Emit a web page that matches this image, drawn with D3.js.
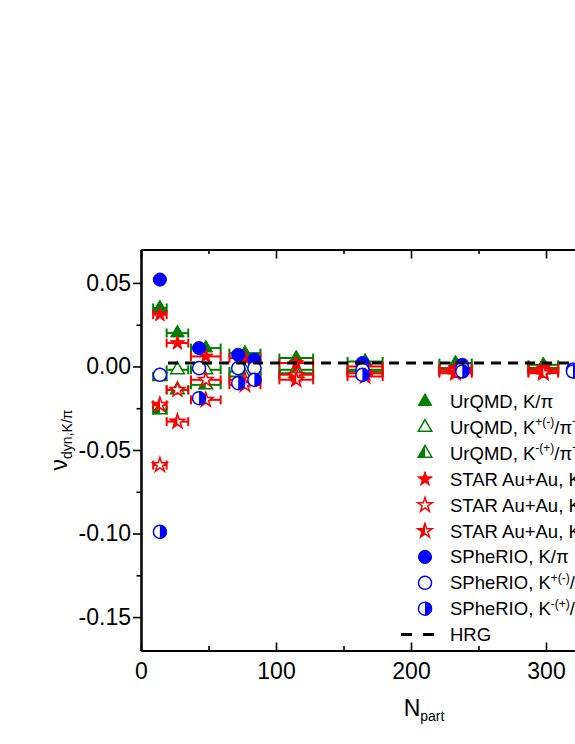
<!DOCTYPE html>
<html>
<head>
<meta charset="utf-8">
<script src="https://cdn.jsdelivr.net/npm/d3@7"></script>
<style>
  body { margin: 0; background: #fff; }
  text { font-family: "Liberation Sans", Arial, sans-serif; }
</style>
</head>
<body>
<script>
// N_part values and horizontal errors (UrQMD / STAR)
var nPart = [14, 27, 48, 77, 115, 166, 233, 298];
var nErr = [5, 8, 11, 11.5, 12.5, 13, 12, 11];

// UrQMD
var urqmdKpi = [0.035, 0.020, 0.011, 0.008, 0.005, 0.003, 0.002, 0.001];
var urqmdPlus = [-0.006, -0.002, -0.002, -0.003, -0.002, -0.002, -0.001, -0.001];
var urqmdMinus = [-0.026, -0.014, -0.011, -0.006, -0.004, -0.003, -0.002, -0.002];

// STAR Au+Au
var starKpi = [0.031, 0.014, 0.006, 0.005, 0.002, 0.000, -0.001, -0.001];
var starPlus = [-0.059, -0.014, -0.008, -0.008, -0.005, -0.004, -0.003, -0.003];
var starMinus = [-0.023, -0.033, -0.020, -0.011, -0.008, -0.006, -0.004, -0.004];

// SPheRIO
var nSph = [14, 43, 72, 84, 164, 238, 320];
var sphKpi = [0.052, 0.011, 0.007, 0.004, 0.002, 0.001, -0.002];
var sphPlus = [-0.005, -0.001, -0.001, -0.001, -0.002, -0.001, -0.002];
var sphMinus = [-0.099, -0.019, -0.010, -0.008, -0.005, -0.003, -0.003];

// HRG
var hrgN = [20, 420];
var hrgV = [0.002, 0.002];

var xMajor = [0, 100, 200, 300, 400];
var xMinor = [50, 150, 250, 350];
var yMajor = [-0.15, -0.10, -0.05, 0.00, 0.05];
var yMinor = [-0.125, -0.075, -0.025, 0.025];

var green = "#008000", red = "#ff0000", blue = "#0000ff";

var svg = d3.select("body").append("svg")
    .attr("width", 575)
    .attr("height", 744);

var defs = svg.append("defs");
defs.append("clipPath").attr("id", "clipL")
    .append("rect").attr("x", -20).attr("y", -20).attr("width", 20).attr("height", 40);
defs.append("clipPath").attr("id", "clipR")
    .append("rect").attr("x", 0).attr("y", -20).attr("width", 20).attr("height", 40);

var x = d3.scaleLinear().domain([0, 420]).range([141, 708]);
var y = d3.scaleLinear().domain([-0.17, 0.07]).range([650.5, 249.5]);

// axes
function styleAxis(g) {
    g.attr("font-family", null).attr("font-size", null);
    g.select(".domain").attr("stroke", "#000").attr("stroke-width", 2);
    g.selectAll(".tick line").attr("stroke", "#000").attr("stroke-width", 1.6);
    g.selectAll(".tick text").attr("fill", "#000").style("font-size", "23px");
}

svg.append("g").attr("transform", "translate(0,650.5)")
    .call(d3.axisBottom(x).tickValues(xMinor).tickSize(-4.5).tickSizeOuter(0).tickFormat(""))
    .call(styleAxis);
svg.append("g").attr("transform", "translate(0,650.5)")
    .call(d3.axisBottom(x).tickValues(xMajor).tickSize(-8).tickSizeOuter(0).tickPadding(12.5).tickFormat(d3.format("d")))
    .call(styleAxis);
svg.append("g").attr("transform", "translate(0,249.5)")
    .call(d3.axisTop(x).tickValues(xMinor).tickSize(-4.5).tickSizeOuter(0).tickFormat(""))
    .call(styleAxis);
svg.append("g").attr("transform", "translate(0,249.5)")
    .call(d3.axisTop(x).tickValues(xMajor).tickSize(-9).tickSizeOuter(0).tickFormat(""))
    .call(styleAxis);
svg.append("g").attr("transform", "translate(141,0)")
    .call(d3.axisLeft(y).tickValues(yMinor).tickSize(4.5).tickSizeOuter(0).tickFormat(""))
    .call(styleAxis);
svg.append("g").attr("transform", "translate(141,0)")
    .call(d3.axisLeft(y).tickValues(yMajor).tickSize(8).tickSizeOuter(0).tickPadding(2)
        .tickFormat(function(d) { return d.toFixed(2); }))
    .call(styleAxis);
svg.append("g").attr("transform", "translate(708,0)")
    .call(d3.axisRight(y).tickValues(yMajor).tickSize(-8).tickSizeOuter(0).tickFormat(""))
    .call(styleAxis);

// axis titles
var yt = svg.append("text")
    .attr("transform", "translate(67,440) rotate(-90)")
    .attr("text-anchor", "middle")
    .style("font-size", "23px");
yt.append("tspan").text("ν");
yt.append("tspan").attr("dy", 5).style("font-size", "14px").text("dyn,K/π");

var xt = svg.append("text")
    .attr("x", 424).attr("y", 716)
    .attr("text-anchor", "middle")
    .style("font-size", "23px");
xt.append("tspan").text("N");
xt.append("tspan").attr("dy", 5).style("font-size", "14px").text("part");

// symbols
var tri = d3.symbol().type(d3.symbolTriangle).size(80)();
var star = d3.symbol().type(d3.symbolStar).size(65)();
var circ = d3.symbol().type(d3.symbolCircle).size(135)();

function drawMarker(parent, px, py, shape, color, mode) {
    var g = parent.append("g").attr("transform", "translate(" + px + "," + py + ")");
    if (mode == "full") {
        g.append("path").attr("d", shape).attr("fill", color).attr("stroke", color).attr("stroke-width", 1);
    } else {
        g.append("path").attr("d", shape).attr("fill", "#fff").attr("stroke", color).attr("stroke-width", 1.5);
        if (mode == "left" || mode == "right") {
            g.append("path").attr("d", shape).attr("fill", color).attr("stroke", color).attr("stroke-width", 1)
                .attr("clip-path", mode == "left" ? "url(#clipL)" : "url(#clipR)");
        }
    }
}

var series = [
    { n: nPart, v: urqmdKpi, err: nErr, shape: tri, color: green, mode: "full", label: ["UrQMD, K/π"] },
    { n: nPart, v: urqmdPlus, err: nErr, shape: tri, color: green, mode: "open", label: ["UrQMD, K", "+(-)", "/π", "+(-)"] },
    { n: nPart, v: urqmdMinus, err: nErr, shape: tri, color: green, mode: "left", label: ["UrQMD, K", "-(+)", "/π", "+(-)"] },
    { n: nPart, v: starKpi, err: nErr, shape: star, color: red, mode: "full", label: ["STAR Au+Au, K/π"] },
    { n: nPart, v: starPlus, err: nErr, shape: star, color: red, mode: "open", label: ["STAR Au+Au, K", "+(-)", "/π", "+(-)"] },
    { n: nPart, v: starMinus, err: nErr, shape: star, color: red, mode: "left", label: ["STAR Au+Au, K", "-(+)", "/π", "+(-)"] },
    { n: nSph, v: sphKpi, err: null, shape: circ, color: blue, mode: "full", label: ["SPheRIO, K/π"] },
    { n: nSph, v: sphPlus, err: null, shape: circ, color: blue, mode: "open", label: ["SPheRIO, K", "+(-)", "/π", "+(-)"] },
    { n: nSph, v: sphMinus, err: null, shape: circ, color: blue, mode: "right", label: ["SPheRIO, K", "-(+)", "/π", "+(-)"] }
];

var plot = svg.append("g");
series.forEach(function(s) {
    var g = plot.append("g");
    s.n.forEach(function(n, i) {
        var py = y(s.v[i]);
        if (s.err) {
            var x0 = x(n - s.err[i]), x1 = x(n + s.err[i]);
            g.append("line").attr("x1", x0).attr("x2", x1).attr("y1", py).attr("y2", py)
                .attr("stroke", s.color).attr("stroke-width", 2);
            [x0, x1].forEach(function(xc) {
                g.append("line").attr("x1", xc).attr("x2", xc).attr("y1", py - 4.5).attr("y2", py + 4.5)
                    .attr("stroke", s.color).attr("stroke-width", 2);
            });
        }
        drawMarker(g, x(n), py, s.shape, s.color, s.mode);
    });
});

// HRG
plot.append("path")
    .datum(hrgN.map(function(n, i) { return [n, hrgV[i]]; }))
    .attr("d", d3.line().x(function(d) { return x(d[0]); }).y(function(d) { return y(d[1]); }))
    .attr("fill", "none").attr("stroke", "#000").attr("stroke-width", 3)
    .attr("stroke-dasharray", "10,7");

// legend
var leg = svg.append("g");
var rowY = 401.5, rowStep = 25.9;
series.forEach(function(s, i) {
    var ly = rowY + i * rowStep;
    drawMarker(leg, 425, ly, s.shape, s.color, s.mode);
    var t = leg.append("text").attr("x", 450).attr("y", ly + 6.5).style("font-size", "18.5px");
    s.label.forEach(function(part, k) {
        var sup = k % 2 == 1;
        var ts = t.append("tspan").text(part).attr("dy", sup ? -7.5 : (k > 0 ? 7.5 : 0));
        if (sup) ts.style("font-size", "12px");
    });
});
var hy = rowY + 9 * rowStep;
leg.append("line").attr("x1", 401).attr("x2", 434).attr("y1", hy).attr("y2", hy)
    .attr("stroke", "#000").attr("stroke-width", 3).attr("stroke-dasharray", "11,11");
leg.append("text").attr("x", 450).attr("y", hy + 6.5).style("font-size", "18.5px").text("HRG");
</script>
</body>
</html>
